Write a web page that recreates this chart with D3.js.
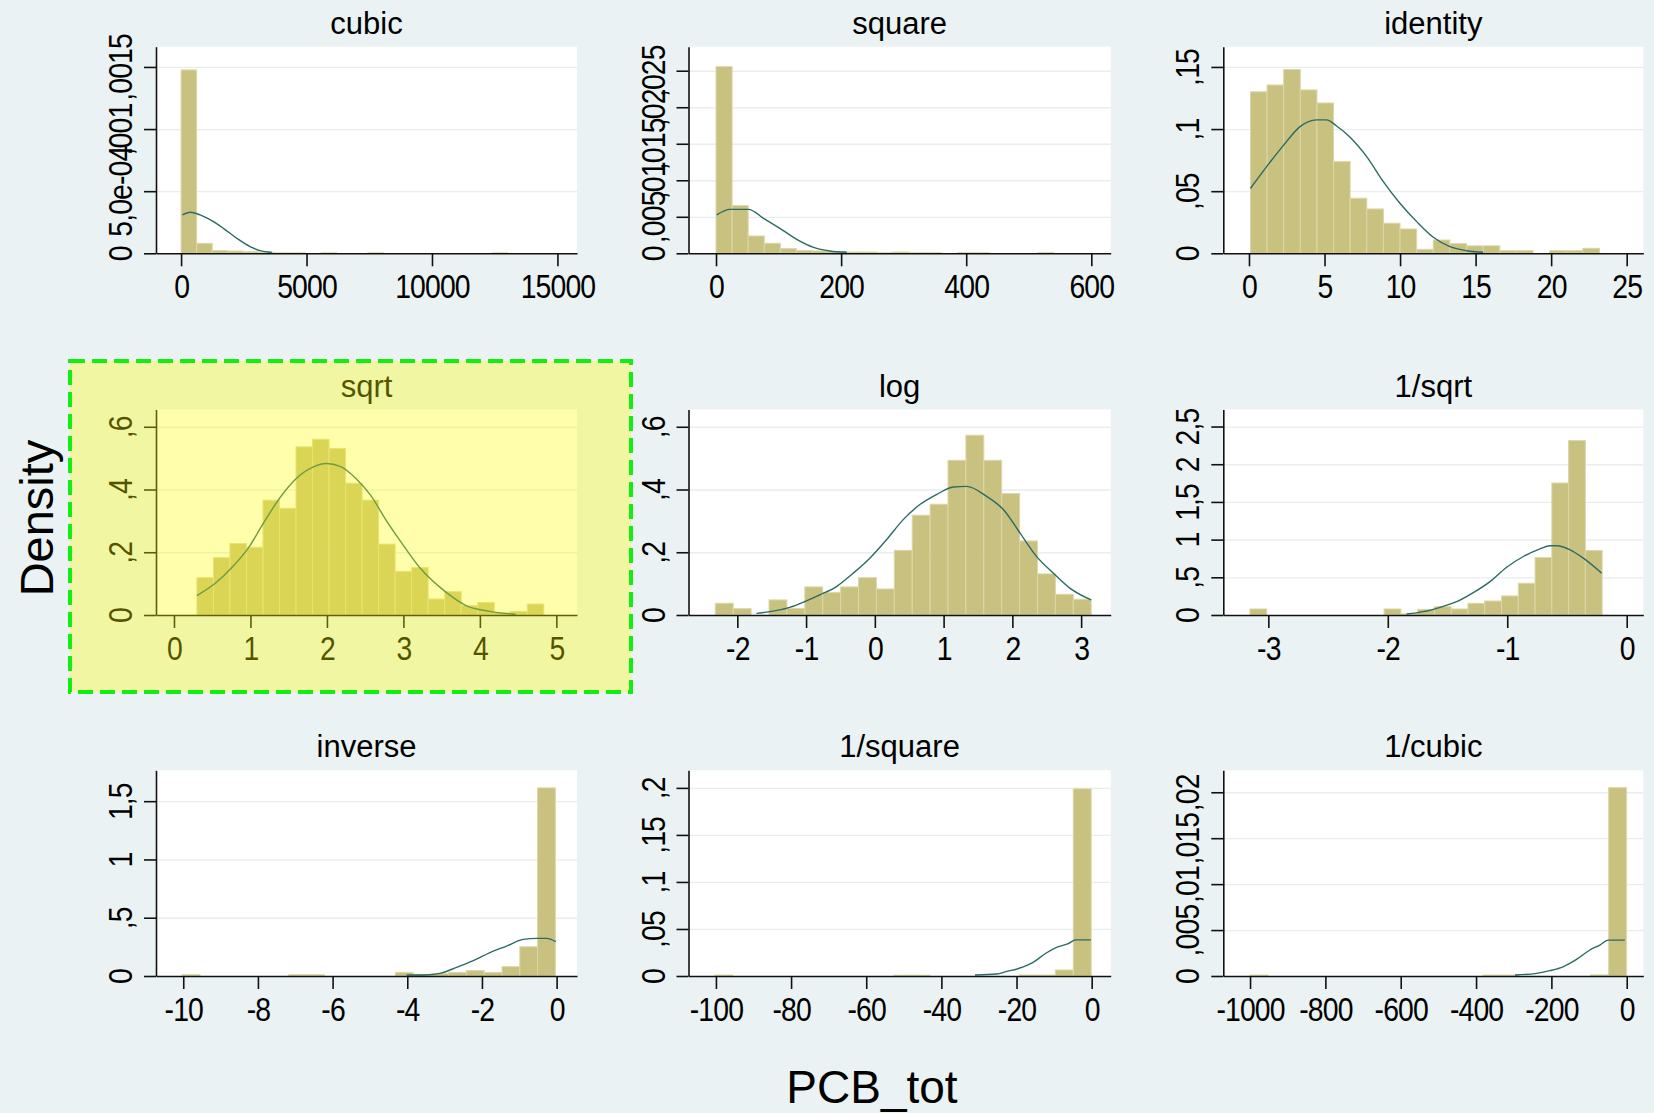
<!DOCTYPE html>
<html>
<head>
<meta charset="utf-8">
<script src="https://cdn.jsdelivr.net/npm/d3@7"></script>
<style>
  html, body { margin: 0; padding: 0; background: #eaf2f3; }
  svg { display: block; font-family: "Liberation Sans", Arial, sans-serif; }
</style>
</head>
<body>
<svg id="chart"></svg>
<script>
// Panel titles (gladder of PCB_tot)
const titles = ["cubic", "square", "identity", "sqrt", "log", "1/sqrt", "inverse", "1/square", "1/cubic"];

// Histogram bins: first edge, bin width, 21 bar heights (density)
const binStarts = [0, 0, 0.098, 0.30, -2.32, -3.154, -10.03, -100.3, -1000];
const binWidths = [620, 25.7, 1.1, 0.216, 0.2603, 0.1404, 0.476, 4.77, 47.6];

const cubicBars = [.001476, .00008, .000022, .000018, .000012, .000008, .000004, .000004, 0, .000004, 0, 0, .000004, 0, 0, 0, 0, 0, 0, 0, .000004];
const squareBars = [.02556, .00653, .00237, .00137, .00064, .000365, .00032, .00023, .00018, .00018, .00009, .00018, .00009, .00009, 0, .00009, .00009, 0, 0, 0, .00009];
const identityBars = [.130, .1355, .148, .1315, .121, .0738, .0443, .0357, .0242, .0196, .0032, .0107, .0078, .006, .006, .0021, .0021, 0, .0021, .0021, .004];
const sqrtBars = [.119, .183, .228, .216, .366, .340, .536, .560, .531, .420, .366, .226, .139, .151, .051, .075, .030, .040, .0083, .0115, .035];
const logBars = [.0373, .0202, 0, .048, .021, .0895, .0714, .0895, .119, .083, .206, .318, .353, .493, .573, .493, .387, .236, .131, .066, .050];
const invSqrtBars = [.080, 0, 0, 0, 0, 0, 0, 0, .080, .015, .075, .11, .08, .155, .186, .253, .421, .762, 1.751, 2.314, .855];
const inverseBars = [.011, 0, 0, 0, 0, 0, .011, .011, 0, 0, 0, 0, .031, .014, .02, .031, .046, .031, .08, .251, 1.614];
const invSquareBars = [.001, 0, 0, 0, 0, 0, 0, 0, 0, 0, .0008, .0008, 0, 0, 0, 0, 0, .001, .001, .0064, .199];
const invCubicBars = [.0001, 0, 0, 0, 0, 0, 0, 0, 0, 0, 0, 0, 0, .0001, .0001, 0, 0, 0, 0, .00012, .0205];

// Normal density overlay [x, density]
const cubicCurve = [[53, .000309], [359, .00033], [757, .000309], [1288, .000255], [1687, .000201], [2218, .000121], [2750, .0000537], [3148, .0000215], [3613, .000008]];
const squareCurve = [[1, .00525], [22, .00602], [52, .00602], [76, .00479], [102, .00342], [129, .00192], [156, .00082], [182, .00032], [209, .00014]];
const identityCurve = [[.098, .0523], [1.17, .0698], [2.27, .0867], [3.38, .102], [4.48, .1074], [5.14, .1074], [5.80, .1025], [6.69, .0934], [7.79, .0778], [8.89, .0577], [9.99, .0403], [11.1, .0255], [12.2, .0129], [13.3, .0054], [14.4, .0021], [15.5, .0008]];
const sqrtCurve = [[.30, .062], [.54, .101], [.748, .149], [.985, .218], [1.168, .292], [1.395, .377], [1.603, .436], [1.83, .473], [1.99, .483], [2.18, .473], [2.376, .436], [2.57, .382], [2.777, .301], [2.956, .237], [3.21, .152], [3.56, .072], [3.82, .030], [4.13, .0115], [4.47, .002]];
const logCurve = [[-1.723, .0053], [-1.529, .0107], [-1.238, .0245], [-1.02, .0426], [-.801, .064], [-.558, .0906], [-.316, .133], [-.073, .181], [.17, .240], [.413, .304], [.655, .352], [.898, .384], [1.141, .408], [1.335, .41], [1.626, .378], [1.869, .336], [2.112, .261], [2.354, .186], [2.597, .133], [2.84, .085], [3.146, .048]];
const invSqrtCurve = [[-1.842, .013], [-1.702, .044], [-1.563, .102], [-1.423, .177], [-1.284, .297], [-1.144, .443], [-1.005, .634], [-.865, .776], [-.726, .878], [-.642, .918], [-.586, .918], [-.474, .864], [-.363, .754], [-.209, .554]];
const inverseCurve = [[-4.018, .0086], [-3.57, .0086], [-3.125, .023], [-2.679, .074], [-2.233, .131], [-1.786, .2], [-1.34, .257], [-.893, .314], [-.536, .323], [-.268, .323], [-.018, .294]];
const invSquareCurve = [[-31.06, .001], [-25.3, .0021], [-22.8, .0046], [-19.3, .0082], [-15.7, .0142], [-12.2, .0242], [-9.5, .0302], [-6.4, .0341], [-4.2, .0384], [-.2, .0384]];
const invCubicCurve = [[-296.5, .00011], [-239, .00029], [-204, .00058], [-169, .001], [-133.3, .0018], [-97.9, .00283], [-71.4, .00337], [-49.3, .0039], [-5, .0039]];

// Axis ticks and labels
const xTicks = [
  [0, 5000, 10000, 15000], [0, 200, 400, 600], [0, 5, 10, 15, 20, 25],
  [0, 1, 2, 3, 4, 5], [-2, -1, 0, 1, 2, 3], [-3, -2, -1, 0],
  [-10, -8, -6, -4, -2, 0], [-100, -80, -60, -40, -20, 0], [-1000, -800, -600, -400, -200, 0]
];
const yTicks = [
  [0, .0005, .001, .0015], [0, .005, .01, .015, .02, .025], [0, .05, .1, .15],
  [0, .2, .4, .6], [0, .2, .4, .6], [0, .5, 1, 1.5, 2, 2.5],
  [0, .5, 1, 1.5], [0, .05, .1, .15, .2], [0, .005, .01, .015, .02]
];
const yTickLabels = [
  ["0", "5,0e-04", ",001", ",0015"], ["0", ",005", ",01", ",015", ",02", ",025"], ["0", ",05", ",1", ",15"],
  ["0", ",2", ",4", ",6"], ["0", ",2", ",4", ",6"], ["0", ",5", "1", "1,5", "2", "2,5"],
  ["0", ",5", "1", "1,5"], ["0", ",05", ",1", ",15", ",2"], ["0", ",005", ",01", ",015", ",02"]
];

// Axis ranges of each panel
const xDomains = [[-1000, 15780], [-44, 631], [-1.7, 26.1], [-0.235, 5.27], [-2.71, 3.43], [-3.377, 0.139], [-10.73, 0.546], [-107.3, 5.06], [-1071, 44]];
const yMaxes = [.001663, .02829, .1663, .655, .655, 2.726, 1.765, .2187, .02239];

const allBars = [cubicBars, squareBars, identityBars, sqrtBars, logBars, invSqrtBars, inverseBars, invSquareBars, invCubicBars];
const allCurves = [cubicCurve, squareCurve, identityCurve, sqrtCurve, logCurve, invSqrtCurve, inverseCurve, invSquareCurve, invCubicCurve];

const width = 1654, height = 1113;
const colLeft = [156, 688.5, 1223.3], colRight = [577, 1110.7, 1643.3];
const rowTop = [46.7, 409.5, 770.3], rowBottom = [253.3, 615, 976];

const svg = d3.select("#chart").attr("width", width).attr("height", height);
svg.append("rect").attr("width", width).attr("height", height).attr("fill", "#eaf2f3");

titles.forEach((title, i) => {
  const col = i % 3, row = Math.floor(i / 3);
  const w = colRight[col] - colLeft[col];
  const h = rowBottom[row] - rowTop[row];
  const g = svg.append("g").attr("transform", `translate(${colLeft[col]},${rowTop[row]})`);

  const x = d3.scaleLinear().domain(xDomains[i]).range([0, w]);
  const y = d3.scaleLinear().domain([0, yMaxes[i]]).range([h, 0]);

  // plot region
  g.append("rect").attr("width", w).attr("height", h).attr("fill", "#ffffff");

  // grid lines
  g.append("g")
    .call(d3.axisLeft(y).tickValues(yTicks[i].slice(1)).tickSize(-w).tickFormat(""))
    .call((a) => a.select(".domain").remove())
    .selectAll("line")
    .attr("stroke", "#e6eef0")
    .attr("stroke-width", 1.3);

  // bars
  const bw = binWidths[i], b0 = binStarts[i];
  const bins = allBars[i]
    .map((v, k) => ({ x0: b0 + k * bw, x1: b0 + (k + 1) * bw, v: v }))
    .filter((d) => d.v > 0);
  g.selectAll("rect.bar")
    .data(bins)
    .enter()
    .append("rect")
    .attr("class", "bar")
    .attr("x", (d) => x(d.x0))
    .attr("width", (d) => x(d.x1) - x(d.x0))
    .attr("y", (d) => y(d.v))
    .attr("height", (d) => h - y(d.v))
    .attr("fill", "#c9c17f")
    .attr("stroke", "#dcd7a8")
    .attr("stroke-width", 1);

  // normal density curve
  const line = d3.line()
    .x((d) => x(d[0]))
    .y((d) => y(d[1]))
    .curve(d3.curveMonotoneX);
  g.append("path")
    .datum(allCurves[i])
    .attr("d", line)
    .attr("fill", "none")
    .attr("stroke", "#2b6b64")
    .attr("stroke-width", 1.4);

  // axes
  const xAxis = g.append("g")
    .attr("transform", `translate(0,${h})`)
    .call(d3.axisBottom(x).tickValues(xTicks[i]).tickFormat((d) => String(d)).tickSize(13).tickSizeOuter(0));
  const yAxis = g.append("g")
    .call(d3.axisLeft(y).tickValues(yTicks[i]).tickFormat((d, k) => yTickLabels[i][k]).tickSize(12).tickSizeOuter(0));

  [xAxis, yAxis].forEach((a) => {
    a.select(".domain").attr("stroke", "#111").attr("stroke-width", 1.6);
    a.selectAll(".tick line").attr("stroke", "#111").attr("stroke-width", 1.6);
    a.selectAll(".tick text")
      .attr("x", null)
      .attr("y", null)
      .attr("dy", null)
      .attr("fill", "#000")
      .attr("font-size", 33)
      .attr("font-family", "Liberation Sans, Arial, sans-serif")
      .attr("letter-spacing", -1)
      .attr("text-anchor", "middle");
  });
  xAxis.selectAll(".tick text").attr("transform", "translate(0,45) scale(0.86,1)");
  yAxis.selectAll(".tick text").attr("transform", "translate(-24,0) rotate(-90) scale(0.86,1)");

  // panel title
  g.append("text")
    .attr("x", w / 2)
    .attr("y", -13)
    .attr("text-anchor", "middle")
    .attr("font-size", 31)
    .attr("fill", "#000")
    .text(title);
});

// highlighted sqrt panel
svg.append("rect")
  .attr("x", 70).attr("y", 361)
  .attr("width", 561).attr("height", 331)
  .attr("fill", "#ffff00")
  .attr("fill-opacity", 0.33);
svg.append("rect")
  .attr("x", 70).attr("y", 361)
  .attr("width", 561).attr("height", 331)
  .attr("fill", "none")
  .attr("stroke", "#12ee12")
  .attr("stroke-width", 4)
  .attr("stroke-dasharray", "15 7");

// axis titles
svg.append("text")
  .attr("transform", "translate(53,518) rotate(-90)")
  .attr("text-anchor", "middle")
  .attr("font-size", 47)
  .attr("fill", "#000")
  .text("Density");

svg.append("text")
  .attr("x", 872)
  .attr("y", 1103)
  .attr("text-anchor", "middle")
  .attr("font-size", 46)
  .attr("fill", "#000")
  .text("PCB_tot");
</script>
</body>
</html>
